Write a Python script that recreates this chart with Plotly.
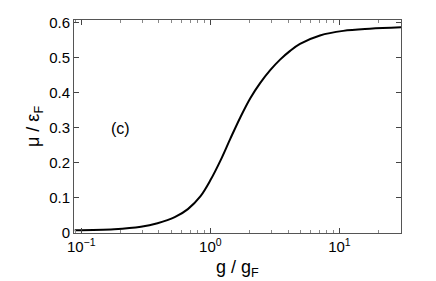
import plotly.graph_objects as go

g_vals = [0.089, 0.18, 0.29, 0.39, 0.53, 0.67, 0.84, 1.0, 1.20, 1.43, 1.71, 2.04, 2.43, 2.91, 3.47, 4.15, 4.95, 7.07, 10.7, 17.2, 30.0]
mu_vals = [0.008, 0.011, 0.018, 0.028, 0.045, 0.068, 0.105, 0.150, 0.207, 0.269, 0.330, 0.384, 0.427, 0.464, 0.494, 0.519, 0.539, 0.563, 0.576, 0.582, 0.586]

x_tickvals = [0.1, 1, 10]
x_ticktext = ["10<sup>−1</sup>", "10<sup>0</sup>", "10<sup>1</sup>"]
y_tickvals = [0, 0.1, 0.2, 0.3, 0.4, 0.5, 0.6]

fig = go.Figure()
fig.add_trace(go.Scatter(x=g_vals, y=mu_vals, mode="lines",
                         line=dict(color="black", width=2, shape="spline", smoothing=1.0)))

minor_x = [m * 10 ** d for d in (-2, -1, 0, 1) for m in range(2, 10)]
minor_x = [v for v in minor_x if 0.088 < v < 30]

FONT = "Liberation Sans, Arial, sans-serif"
axis_font = dict(family=FONT, size=15, color="black")
# page body has an 8px default margin, so the figure is offset by 8px
OFF = 8
L, R, T, B = 74 - OFF, 35, 20 - OFF, 48
W, H = 436 - OFF, 281 - OFF
fig.update_layout(
    width=W, height=H,
    margin=dict(l=L, r=R, t=T, b=B),
    paper_bgcolor="white", plot_bgcolor="white",
    showlegend=False,
    font=axis_font,
    xaxis=dict(type="log", range=[-1.056, 1.477], tickvals=x_tickvals, ticktext=x_ticktext,
               ticks="inside", ticklen=5, tickcolor="#444", showgrid=False, zeroline=False,
               showline=True, linecolor="#555", linewidth=1, mirror="ticks", automargin=False,
               minor=dict(tickvals=minor_x, ticks="inside", ticklen=3, tickcolor="#888", showgrid=False),
               tickfont=axis_font),
    yaxis=dict(range=[0, 0.607], tickvals=y_tickvals,
               ticks="inside", ticklen=5, tickcolor="#444", showgrid=False, zeroline=False,
               showline=True, linecolor="#555", linewidth=1, mirror="ticks", automargin=False,
               tickfont=axis_font),
)
pw, ph = W - L - R, H - T - B
fig.add_annotation(x=(237 - 74) / pw, y=(233 - 268) / ph, xref="paper", yref="paper",
                   xanchor="center", yanchor="middle",
                   text="g / g<sub>F</sub>", showarrow=False,
                   font=dict(family=FONT, size=18, color="black"))
fig.add_annotation(x=(35 - 74) / pw, y=(233 - 127) / ph, xref="paper", yref="paper",
                   xanchor="center", yanchor="middle",
                   text="μ / ε<sub>F</sub>", textangle=-90, showarrow=False,
                   font=dict(family=FONT, size=18, color="black"))
fig.add_annotation(x=-0.695, y=0.298, xref="x", yref="y", text="(c)", showarrow=False,
                   xanchor="center", yanchor="middle",
                   font=dict(family=FONT, size=16, color="black"))
fig.write_html("out.html")
